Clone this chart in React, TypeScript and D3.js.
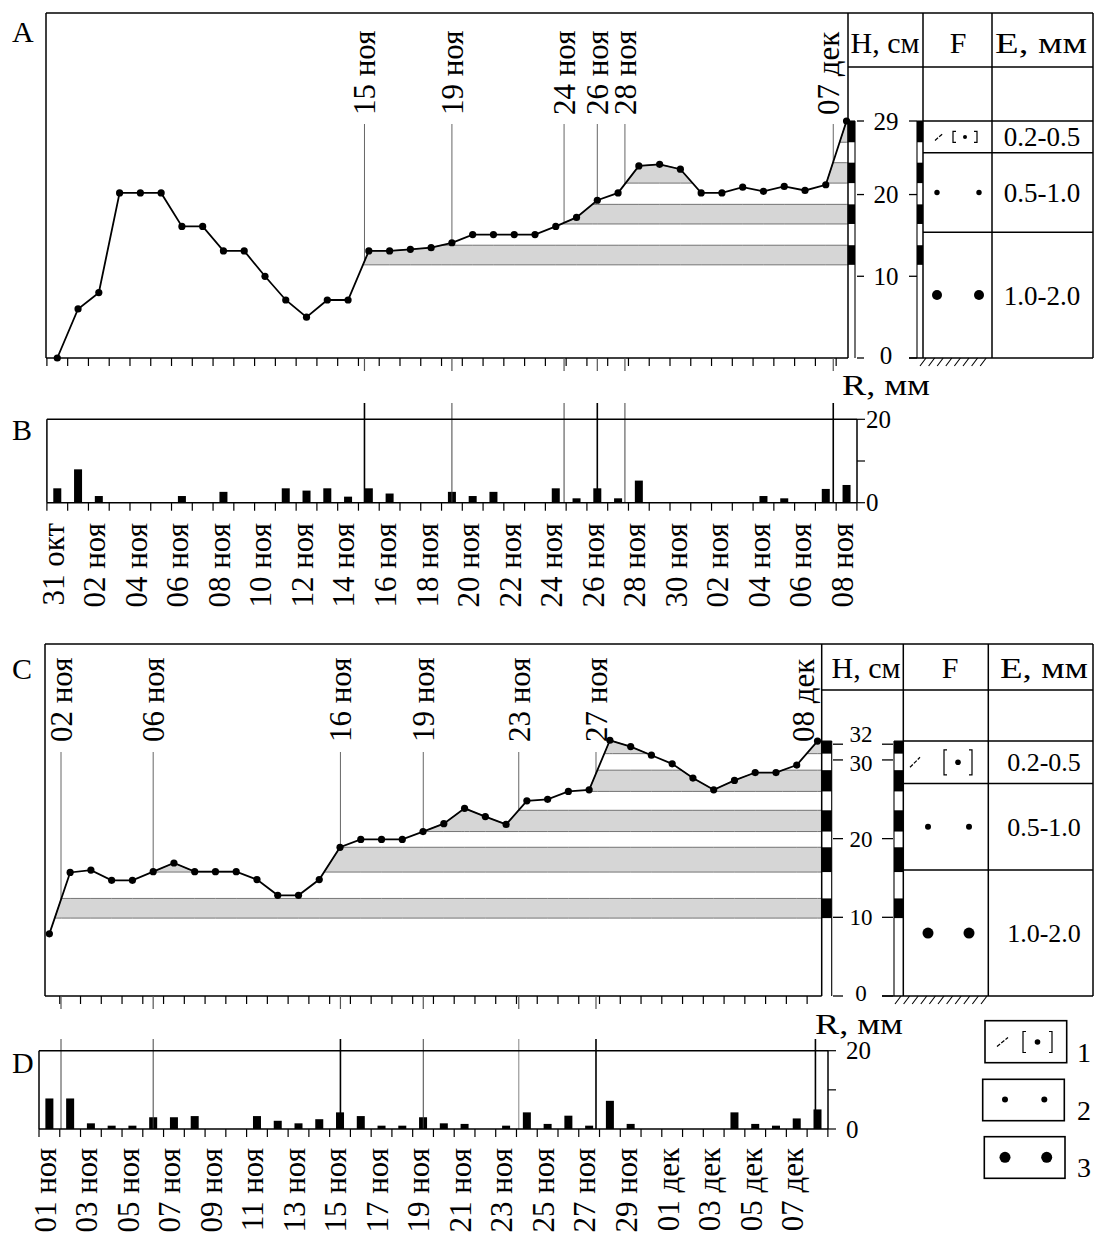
import React from "react";
import * as d3 from "d3";

const FONT = "'Liberation Serif', 'Times New Roman', serif";

// ---------------- Data: panels A & B (31 окт – 08 дек) ----------------
const snowA = [0, 6, 8, 20.2, 20.2, 20.2, 16.1, 16.1, 13.1, 13.1, 10, 7.1, 5, 7.1, 7.1, 13.1, 13.1, 13.3, 13.5, 14.1, 15.1, 15.1, 15.1, 15.1, 16.1, 17.2, 19.3, 20.2, 23.5, 23.7, 23.1, 20.2, 20.2, 20.9, 20.4, 21, 20.5, 21.2, 29];
const rainB = [3.45, 8, 1.6, 0, 0, 0, 1.6, 0, 2.6, 0, 0, 3.45, 2.9, 3.45, 1.45, 3.45, 2.2, 0, 0, 2.6, 1.6, 2.6, 0, 0, 3.45, 1.05, 3.45, 1.05, 5.3, 0, 0, 0, 0, 0, 1.6, 1.05, 0, 3.3, 4.25];
const tickLabelsB = ["31 окт", "02 ноя", "04 ноя", "06 ноя", "08 ноя", "10 ноя", "12 ноя", "14 ноя", "16 ноя", "18 ноя", "20 ноя", "22 ноя", "24 ноя", "26 ноя", "28 ноя", "30 ноя", "02 ноя", "04 ноя", "06 ноя", "08 ноя"];
const markersA = [
  { label: "15 ноя", day: 15.29, tone: "dark" },
  { label: "19 ноя", day: 19.5 },
  { label: "24 ноя", day: 24.9 },
  { label: "26 ноя", day: 26.5, tone: "dark" },
  { label: "28 ноя", day: 27.83 },
  { label: "07 дек", day: 37.86, labelDay: 37.61, tone: "dark" },
];
const layersA = [
  { bottom: 11.4, top: 13.8, start: 15 },
  { bottom: 16.4, top: 18.8, start: 24 },
  { bottom: 21.4, top: 23.9, start: 27.5 },
  { bottom: 26.4, top: 29, start: 37 },
];
const hTicksA = [0, 10, 20, 29];
const rowsA = [29, 25.1, 15.4, 0];

// ---------------- Data: panels C & D (01 ноя – 08 дек) ----------------
const snowC = [7.9, 15.7, 16.0, 14.7, 14.7, 15.8, 16.9, 15.8, 15.8, 15.8, 14.8, 12.8, 12.8, 14.8, 18.9, 19.9, 19.9, 19.9, 20.9, 21.9, 23.85, 22.8, 21.8, 24.8, 25.0, 26.0, 26.2, 32.5, 31.7, 30.6, 29.5, 27.7, 26.2, 27.4, 28.4, 28.4, 29.35, 32.4];
const rainD = [7.8, 7.8, 1.45, 0.85, 0.85, 3.0, 3.0, 3.3, 0, 0, 3.3, 2.1, 1.45, 2.5, 4.25, 3.3, 0.85, 0.85, 3.0, 1.45, 1.3, 0, 0.85, 4.25, 1.3, 3.4, 0.85, 7.2, 1.3, 0, 0, 0, 0, 4.25, 1.3, 0.85, 2.7, 5.0];
const tickLabelsD = ["01 ноя", "03 ноя", "05 ноя", "07 ноя", "09 ноя", "11 ноя", "13 ноя", "15 ноя", "17 ноя", "19 ноя", "21 ноя", "23 ноя", "25 ноя", "27 ноя", "29 ноя", "01 дек", "03 дек", "05 дек", "07 дек"];
const markersC = [
  { label: "02 ноя", day: 1.06 },
  { label: "06 ноя", day: 5.5 },
  { label: "16 ноя", day: 14.52, tone: "dark" },
  { label: "19 ноя", day: 18.51 },
  { label: "23 ноя", day: 23.11, tone: "light" },
  { label: "27 ноя", day: 26.83, tone: "dark" },
  { label: "08 дек", day: 37.4, labelDay: 36.82, tone: "dark", noUpper: true },
];
const layersC = [
  { bottom: 9.9, top: 12.4, start: 0 },
  { bottom: 15.75, top: 18.9, start: 5.5 },
  { bottom: 20.9, top: 23.6, start: 17.5 },
  { bottom: 26.0, top: 28.7, start: 26.5 },
  { bottom: 30.8, top: 32.4, start: 26.5 },
];
const hTicksC = [0, 10, 20, 30, 32];
const rowsC = [32.4, 27.0, 16.0, 0];

const grainLabels = ["0.2-0.5", "0.5-1.0", "1.0-2.0"];

// ---------------- Layout configs ----------------
const cfgA = {
  letter: "A", letterX: 12, letterY: 42,
  values: snowA, layers: layersA, markers: markersA, hTicks: hTicksA, rows: rowsA,
  nDays: 39, x0: 46.9, dayW: 20.77,
  frameL: 46, top: 13, bottom: 358, plotR: 848, stripeW: 7, stripe2L: 917, fL: 923, eL: 992, right: 1093, head: 67,
  hMax: 29, yTopPx: 121, stripeTopH: 29,
  hLabelX: 886, hTickL: [857, 864], hTickR: [909, 917], hFont: 25, hNudge: { 0: -3 } as Record<number, number>,
  markerLabelY: 115, markerLineTop: 124,
  fDots: [937, 979], smallR: 2.7, bigR: 5,
  sym: { cx: 965, hw: 12, hh: 5.5, s1: -30, s2: -22, sh: 3.5, r: 2 },
  eX: 1042, eFont: 27, eHeadLen: 92,
  headY: 42, headH: 885, headF: 958, headE: 1041,
  hatchX: [920, 988],
};
const cfgC = {
  letter: "C", letterX: 12, letterY: 679,
  values: snowC, layers: layersC, markers: markersC, hTicks: hTicksC, rows: rowsC,
  nDays: 38, x0: 39, dayW: 20.76,
  frameL: 45, top: 644, bottom: 996, plotR: 821.7, stripeW: 10, stripe2L: 894, fL: 903.3, eL: 988.3, right: 1093, head: 690,
  hMax: 32, yTopPx: 744.2, stripeTopH: 32.4,
  hLabelX: 861, hTickL: [833, 843], hTickR: [882, 893], hFont: 23, hNudge: { 32: -10, 30: 3, 0: -3 } as Record<number, number>,
  markerLabelY: 742, markerLineTop: 752,
  fDots: [928, 969], smallR: 3, bigR: 5.5,
  sym: { cx: 958, hw: 14, hh: 12.5, s1: -48, s2: -38, sh: 5, r: 2.8 },
  eX: 1044, eFont: 26, eHeadLen: 88,
  headY: 667, headH: 866, headF: 950, headE: 1044,
  hatchX: [895, 986],
};
const cfgB = {
  letter: "B", letterX: 12, letterY: 440,
  values: rainB, markers: markersA, labels: tickLabelsB,
  nDays: 39, x0: 46.9, dayW: 20.77,
  frameL: 46.9, top: 419.3, bottom: 502.7, axisR: 857,
  lineTop: 403, labelY: 523, rLabelX: 842, rLabelY: 395, rTickLabelX: 866, barW: 8,
};
const cfgD = {
  letter: "D", letterX: 12, letterY: 1073,
  values: rainD, markers: markersC, labels: tickLabelsD,
  nDays: 38, x0: 39, dayW: 20.76,
  frameL: 39, top: 1050.7, bottom: 1129, axisR: 828,
  lineTop: 1039, labelY: 1148, rLabelX: 815, rLabelY: 1034, rTickLabelX: 846, barW: 8,
};

type Pt = [number, number];
type Layer = { bottom: number; top: number; start: number };

function interp(pts: Pt[], d: number) {
  if (d <= pts[0][0]) return pts[0][1];
  const n = pts.length;
  if (d >= pts[n - 1][0]) return pts[n - 1][1];
  for (let i = 0; i < n - 1; i++) {
    const [d0, h0] = pts[i];
    const [d1, h1] = pts[i + 1];
    if (d >= d0 && d <= d1) return h0 + ((h1 - h0) * (d - d0)) / (d1 - d0);
  }
  return pts[n - 1][1];
}

function layerSamples(pts: Pt[], L: Layer, end: number) {
  const ds: number[] = [L.start, end];
  pts.forEach(([d]) => {
    if (d > L.start && d < end) ds.push(d);
  });
  for (let i = 0; i < pts.length - 1; i++) {
    const [d0, h0] = pts[i];
    const [d1, h1] = pts[i + 1];
    for (const lv of [L.bottom, L.top]) {
      if ((h0 - lv) * (h1 - lv) < 0) {
        const dc = d0 + ((lv - h0) / (h1 - h0)) * (d1 - d0);
        if (dc > L.start && dc < end) ds.push(dc);
      }
    }
  }
  ds.sort((a, b) => a - b);
  return ds.map((d) => ({ d, h: interp(pts, d) }));
}

function toneStyle(tone?: string) {
  if (tone === "dark") return { stroke: "#000", w: 1.6 };
  if (tone === "light") return { stroke: "#999", w: 1.2 };
  return { stroke: "#444", w: 1 };
}

function Sym1({ cx, cy, s }: { cx: number; cy: number; s: any }) {
  return (
    <g stroke="#000" fill="none" strokeWidth={1.2}>
      <line x1={cx + s.s1} y1={cy + s.sh} x2={cx + s.s2} y2={cy - s.sh} strokeDasharray="4 1.5" />
      <path d={`M${cx - s.hw + 3},${cy - s.hh} H${cx - s.hw} V${cy + s.hh} H${cx - s.hw + 3}`} />
      <path d={`M${cx + s.hw - 3},${cy - s.hh} H${cx + s.hw} V${cy + s.hh} H${cx + s.hw - 3}`} />
      <circle cx={cx} cy={cy} r={s.r} fill="#000" stroke="none" />
    </g>
  );
}

function SnowPanel({ c }: { c: any }) {
  const x = d3.scaleLinear().domain([0, c.nDays]).range([c.x0, c.x0 + c.nDays * c.dayW]);
  const y = d3.scaleLinear().domain([0, c.hMax]).range([c.bottom, c.yTopPx]);
  const pts: Pt[] = c.values.map((v: number, i: number) => [i + 0.5, v] as Pt);
  const endDay = x.invert(c.plotR);
  const line = d3.line<Pt>().x((p) => x(p[0])).y((p) => y(p[1]));
  const areas = c.layers.map((L: Layer) => {
    const s = layerSamples(pts, L, endDay);
    const a = d3
      .area<{ d: number; h: number }>()
      .defined((p) => p.h >= L.bottom - 1e-6)
      .x((p) => x(p.d))
      .y0(y(L.bottom))
      .y1((p) => y(Math.min(L.top, p.h)));
    return a(s) || "";
  });
  const tickDays = d3.range(0, c.nDays + 1).filter((k) => x(k) >= c.frameL - 1 && x(k) <= c.plotR - 3);
  const sTop = y(c.stripeTopH);
  const s1L = c.plotR;
  const s1R = c.plotR + c.stripeW;
  const s2L = c.stripe2L;
  const s2R = c.fL;
  const rowY = c.rows.map((h: number) => y(h));
  const rowMid = [0, 1, 2].map((i) => (rowY[i] + rowY[i + 1]) / 2);
  const hatch = d3.range(c.hatchX[0], c.hatchX[1] - 4, 8.6);

  return (
    <g>
      <text x={c.letterX} y={c.letterY} fontSize={30}>{c.letter}</text>
      {/* layers */}
      {areas.map((d: string, i: number) => (
        <path key={"ar" + i} d={d} fill="#d6d6d6" stroke="#666" strokeWidth={0.9} />
      ))}
      {/* marker lines + labels */}
      {c.markers.map((m: any, i: number) => {
        const lx = x(m.labelDay ?? m.day);
        const mx = x(m.day);
        return (
          <g key={"mk" + i}>
            {!m.noUpper && (
              <line x1={mx} x2={mx} y1={c.markerLineTop} y2={y(interp(pts, m.day))} stroke="#666" strokeWidth={1} />
            )}
            <text transform={`translate(${lx},${c.markerLabelY}) rotate(-90)`} dy="0.35em" fontSize={31} textAnchor="start">
              {m.label}
            </text>
          </g>
        );
      })}
      {/* curve */}
      <path d={line(pts) || ""} fill="none" stroke="#000" strokeWidth={1.8} />
      {pts.map((p, i) => (
        <circle key={"pt" + i} cx={x(p[0])} cy={y(p[1])} r={3.6} fill="#000" />
      ))}
      {/* frame */}
      <g stroke="#000" strokeWidth={1.5} fill="none">
        <line x1={c.frameL} x2={c.right} y1={c.top} y2={c.top} />
        <line x1={c.frameL} x2={c.frameL} y1={c.top} y2={c.bottom} />
        <line x1={c.frameL} x2={c.plotR} y1={c.bottom} y2={c.bottom} />
        <line x1={c.plotR} x2={c.plotR} y1={c.top} y2={c.bottom} />
        <line x1={c.fL} x2={c.fL} y1={c.top} y2={c.bottom} />
        <line x1={c.eL} x2={c.eL} y1={c.top} y2={c.bottom} />
        <line x1={c.right} x2={c.right} y1={c.top} y2={c.bottom} />
        <line x1={c.plotR} x2={c.right} y1={c.head} y2={c.head} />
        {[0, 1, 2].map((i) => (
          <line key={"rw" + i} x1={c.fL} x2={c.right} y1={rowY[i]} y2={rowY[i]} />
        ))}
        <line x1={c.hTickR[0]} x2={c.right} y1={c.bottom} y2={c.bottom} />
        <line x1={s1R} x2={s1R} y1={sTop} y2={c.bottom} strokeWidth={1.1} />
        <line x1={s2L} x2={s2L} y1={sTop} y2={c.bottom} strokeWidth={1.1} />
        <line x1={s1L} x2={s1R} y1={sTop} y2={sTop} strokeWidth={1.1} />
        <line x1={s2L} x2={s2R} y1={sTop} y2={sTop} strokeWidth={1.1} />
      </g>
      {/* stripes */}
      {c.layers.map((L: Layer, i: number) => (
        <g key={"st" + i} fill="#000">
          <rect x={s1L} width={s1R - s1L} y={y(Math.min(L.top, c.stripeTopH))} height={y(L.bottom) - y(Math.min(L.top, c.stripeTopH))} />
          <rect x={s2L} width={s2R - s2L} y={y(Math.min(L.top, c.stripeTopH))} height={y(L.bottom) - y(Math.min(L.top, c.stripeTopH))} />
        </g>
      ))}
      {/* x ticks */}
      <g stroke="#000" strokeWidth={1.2}>
        {tickDays.map((k) => (
          <line key={"tk" + k} x1={x(k)} x2={x(k)} y1={c.bottom} y2={c.bottom + 8} />
        ))}
        {c.markers
          .filter((m: any) => !m.noUpper)
          .map((m: any, i: number) => (
            <line key={"mt" + i} x1={x(m.day)} x2={x(m.day)} y1={c.bottom} y2={c.bottom + 13} stroke="#555" />
          ))}
      </g>
      {/* H axis */}
      {c.hTicks.map((t: number) => (
        <g key={"ht" + t}>
          <line x1={c.hTickL[0]} x2={c.hTickL[1]} y1={y(t)} y2={y(t)} stroke="#000" strokeWidth={1.3} />
          <line x1={c.hTickR[0]} x2={c.hTickR[1]} y1={y(t)} y2={y(t)} stroke="#000" strokeWidth={1.3} />
          <text x={c.hLabelX} y={y(t) + (c.hNudge[t] || 0)} dy="0.35em" fontSize={c.hFont} textAnchor="middle">
            {t}
          </text>
        </g>
      ))}
      {/* headers */}
      <text x={c.headH} y={c.headY} dy="0.35em" fontSize={30} textAnchor="middle">H, см</text>
      <text x={c.headF} y={c.headY} dy="0.35em" fontSize={30} textAnchor="middle">F</text>
      <text x={c.headE} y={c.headY} dy="0.35em" fontSize={30} textAnchor="middle" textLength={c.eHeadLen} lengthAdjust="spacingAndGlyphs">E, мм</text>
      {/* F column */}
      <Sym1 cx={c.sym.cx} cy={rowMid[0]} s={c.sym} />
      {c.fDots.map((fx: number, i: number) => (
        <circle key={"sd" + i} cx={fx} cy={rowMid[1]} r={c.smallR} fill="#000" />
      ))}
      {c.fDots.map((fx: number, i: number) => (
        <circle key={"bd" + i} cx={fx} cy={rowMid[2]} r={c.bigR} fill="#000" />
      ))}
      {/* E column */}
      {grainLabels.map((g, i) => (
        <text key={"e" + i} x={c.eX} y={rowMid[i]} dy="0.35em" fontSize={c.eFont} textAnchor="middle">
          {g}
        </text>
      ))}
      {/* hatch */}
      <g stroke="#000" strokeWidth={1.1}>
        {hatch.map((hx: number, i: number) => (
          <line key={"h" + i} x1={hx} y1={c.bottom + 8} x2={hx + 6} y2={c.bottom} />
        ))}
      </g>
    </g>
  );
}

function RainPanel({ c }: { c: any }) {
  const x = d3.scaleLinear().domain([0, c.nDays]).range([c.x0, c.x0 + c.nDays * c.dayW]);
  const y = d3.scaleLinear().domain([0, 20]).range([c.bottom, c.top]);
  const tickDays = d3.range(0, c.nDays + 1).filter((k) => x(k) <= c.axisR + 1);
  return (
    <g>
      <text x={c.letterX} y={c.letterY} fontSize={30}>{c.letter}</text>
      {c.values.map((v: number, i: number) =>
        v > 0 ? (
          <rect key={"b" + i} x={x(i + 0.5) - c.barW / 2} y={y(v)} width={c.barW} height={y(0) - y(v)} fill="#000" />
        ) : null
      )}
      {c.markers.map((m: any, i: number) => {
        const st = toneStyle(m.tone);
        return <line key={"ml" + i} x1={x(m.day)} x2={x(m.day)} y1={c.lineTop} y2={c.bottom} stroke={st.stroke} strokeWidth={st.w} />;
      })}
      <g stroke="#000" strokeWidth={1.5}>
        <line x1={c.frameL} x2={c.axisR} y1={c.top} y2={c.top} />
        <line x1={c.frameL} x2={c.frameL} y1={c.top} y2={c.bottom} />
        <line x1={c.frameL} x2={c.axisR} y1={c.bottom} y2={c.bottom} />
        <line x1={c.axisR} x2={c.axisR} y1={c.top} y2={c.bottom} />
      </g>
      <g stroke="#000" strokeWidth={1.2}>
        {tickDays.map((k) => (
          <line key={"t" + k} x1={x(k)} x2={x(k)} y1={c.bottom} y2={c.bottom + 8} />
        ))}
        {[0, 10, 20].map((r) => (
          <line key={"r" + r} x1={c.axisR} x2={c.axisR + 8} y1={y(r)} y2={y(r)} />
        ))}
      </g>
      <text x={c.rTickLabelX} y={y(20)} dy="0.35em" fontSize={25}>20</text>
      <text x={c.rTickLabelX} y={y(0)} dy="0.35em" fontSize={25}>0</text>
      <text x={c.rLabelX} y={c.rLabelY} fontSize={30} textLength={88} lengthAdjust="spacingAndGlyphs">R, мм</text>
      {c.labels.map((lab: string, j: number) => (
        <text
          key={"l" + j}
          transform={`translate(${x(j * 2 + 0.5) - 4.5},${c.labelY}) rotate(-90)`}
          dy="0.35em"
          fontSize={31}
          textAnchor="end"
        >
          {lab}
        </text>
      ))}
    </g>
  );
}

const legendSym = { hw: 14.5, hh: 10.5, s1: -40.5, s2: -29.5, sh: 4.5, r: 2.8 };

function Legend() {
  return (
    <g>
      <g fill="none" stroke="#000" strokeWidth={1.6}>
        <rect x={985} y={1020.7} width={81.7} height={42} />
        <rect x={982.7} y={1079.3} width={81.6} height={41.4} />
        <rect x={984.3} y={1136.7} width={80.7} height={41.6} />
      </g>
      <Sym1 cx={1037.5} cy={1042} s={legendSym} />
      <circle cx={1005} cy={1099.5} r={3} fill="#000" />
      <circle cx={1044.3} cy={1099.5} r={3} fill="#000" />
      <circle cx={1005} cy={1157.3} r={5.5} fill="#000" />
      <circle cx={1046.7} cy={1157.3} r={5.5} fill="#000" />
      <text x={1077} y={1062} fontSize={28}>1</text>
      <text x={1077} y={1120} fontSize={28}>2</text>
      <text x={1077} y={1177} fontSize={28}>3</text>
    </g>
  );
}

export default function App() {
  return (
    <svg
      width={1095}
      height={1238}
      style={{ position: "absolute", left: 0, top: 0, background: "#fff" }}
      fontFamily={FONT}
    >
      <rect width={1095} height={1238} fill="#fff" />
      <SnowPanel c={cfgA} />
      <RainPanel c={cfgB} />
      <SnowPanel c={cfgC} />
      <RainPanel c={cfgD} />
      <Legend />
    </svg>
  );
}
